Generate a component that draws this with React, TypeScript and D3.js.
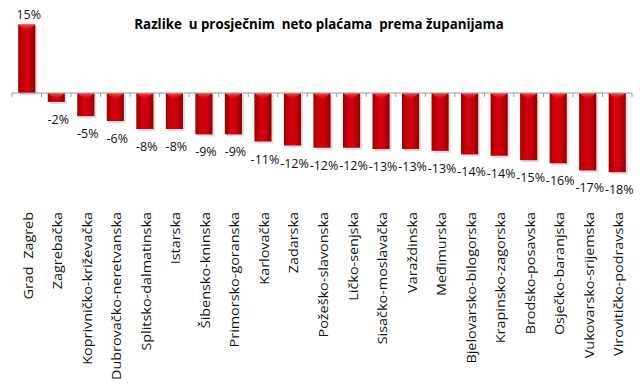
import * as d3 from 'd3';

const counties = [
  'Grad  Zagreb', 'Zagrebačka', 'Koprivničko-križevačka', 'Dubrovačko-neretvanska',
  'Splitsko-dalmatinska', 'Istarska', 'Šibensko-kninska', 'Primorsko-goranska',
  'Karlovačka', 'Zadarska', 'Požeško-slavonska', 'Ličko-senjska', 'Sisačko-moslavačka',
  'Varaždinska', 'Međimurska', 'Bjelovarsko-bilogorska', 'Krapinsko-zagorska',
  'Brodsko-posavska', 'Osječko-baranjska', 'Vukovarsko-srijemska', 'Virovitičko-podravska',
];
const diffs = [
  15.4, -2.0, -5.2, -6.3, -8.1, -8.1, -9.3, -9.3, -10.9, -11.8, -12.3,
  -12.3, -12.6, -12.6, -13.0, -13.8, -14.1, -15.1, -15.8, -17.4, -17.8,
];
const title = 'Razlike  u prosječnim  neto plaćama  prema županijama';

const W = 640;
const H = 386;
const AXIS_LEFT = 12;
const AXIS_RIGHT = 632;
const FONT = "'Open Sans', 'DejaVu Sans', sans-serif";

export default function App() {
  const x = d3
    .scaleBand<string>()
    .domain(counties)
    .range([AXIS_LEFT, AXIS_RIGHT])
    .paddingInner(0.42)
    .paddingOuter(0.21);
  const y = d3.scaleLinear().domain([-20, 20]).range([93 + 89, 93 - 89]);
  const y0 = y(0);
  const step = x.step();
  const bw = x.bandwidth();
  // plain hyphen, like the original labels
  const pct = (v: number) => d3.format('.0f')(v).replace('\u2212', '-') + '%';

  return (
    <svg width={W} height={H} style={{ position: 'absolute', left: 0, top: 0, background: '#fff' }}>
      <defs>
        <linearGradient id="barFill" x1="0" x2="1" y1="0" y2="0">
          <stop offset="0" stopColor="#a00000" />
          <stop offset="0.4" stopColor="#d4000c" />
          <stop offset="0.65" stopColor="#cc000c" />
          <stop offset="1" stopColor="#920000" />
        </linearGradient>
        <linearGradient id="capFill" x1="0" x2="0" y1="0" y2="1">
          <stop offset="0" stopColor="#ff5050" />
          <stop offset="1" stopColor="#e0101a" stopOpacity="0" />
        </linearGradient>
      </defs>

      <text
        x={319}
        y={29}
        textAnchor="middle"
        fontFamily={FONT}
        fontWeight="bold"
        fontSize={13.3}
        style={{ whiteSpace: 'pre' }}
      >
        {title}
      </text>

      {counties.map((c, i) => {
        const v = diffs[i];
        const x0 = x(c)!;
        const top = Math.min(y(v), y0);
        const h = Math.abs(y(v) - y0);
        const cx = x0 + bw / 2;
        return (
          <g key={c}>
            <rect x={x0 + 2} y={top + 2} width={bw} height={h} fill="#bbb" opacity={0.5} />
            <rect x={x0} y={top} width={bw} height={h} fill="url(#barFill)" />
            <path
              d={v >= 0
                ? `M${x0},${top}L${x0 + bw},${top}L${cx},${top + 7}Z`
                : `M${x0},${y0}L${x0 + bw},${y0}L${cx},${y0 + 7}Z`}
              fill="url(#capFill)"
            />
            <text
              x={cx + 2}
              y={v >= 0 ? y(v) - 5 : y(v) + 22}
              textAnchor="middle"
              fontFamily={FONT}
              fontSize={12.5}
              fill="#111"
            >
              {pct(v)}
            </text>
            <text
              transform={`translate(${cx + 6},212) rotate(-90) scale(1.2,1)`}
              textAnchor="end"
              fontFamily={FONT}
              fontSize={12}
              fill="#111"
              style={{ whiteSpace: 'pre' }}
            >
              {c}
            </text>
          </g>
        );
      })}

      <line x1={AXIS_LEFT} x2={AXIS_RIGHT} y1={y0} y2={y0} stroke="#999" />
      {d3.range(counties.length + 1).map((k) => (
        <line
          key={k}
          x1={AXIS_LEFT + k * step}
          x2={AXIS_LEFT + k * step}
          y1={y0}
          y2={y0 + 4}
          stroke="#999"
        />
      ))}
    </svg>
  );
}
